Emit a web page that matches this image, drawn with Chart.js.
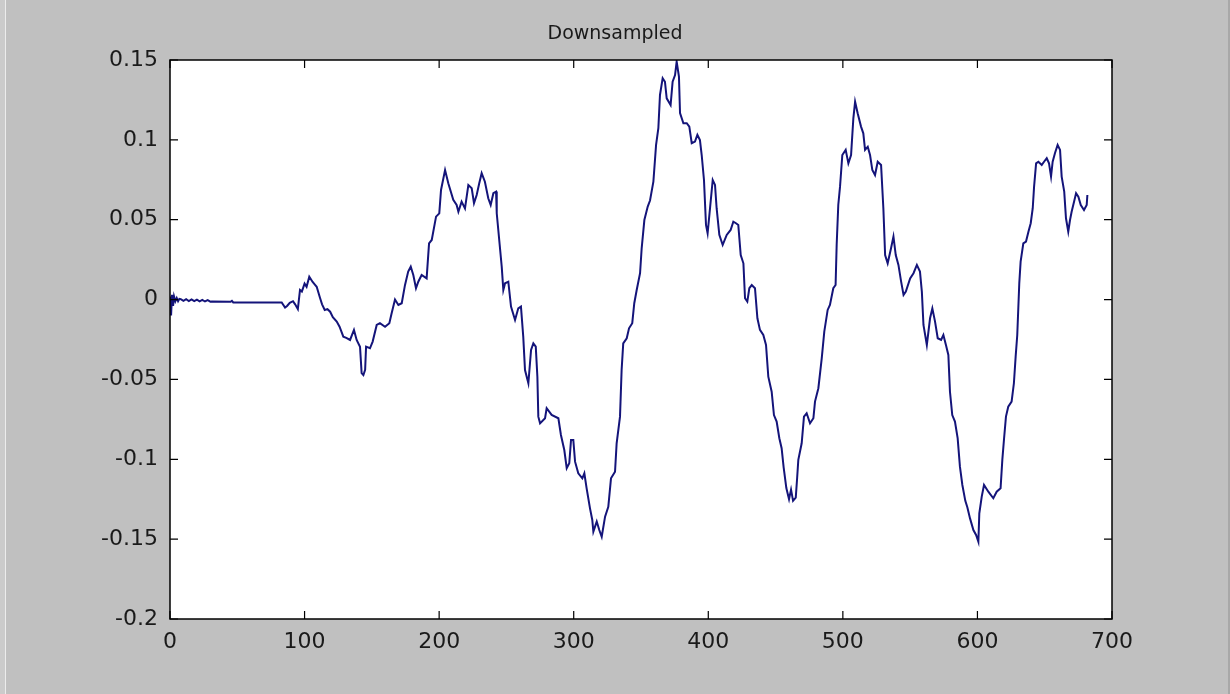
<!DOCTYPE html>
<html>
<head>
<meta charset="utf-8">
<title>Downsampled</title>
<script src="https://cdn.jsdelivr.net/npm/chart.js@4/dist/chart.umd.min.js"></script>
<style>
  html, body { margin: 0; padding: 0; background: #c0c0c0; }
  #wrap { width: 1230px; height: 694px; }
</style>
</head>
<body>
<div id="wrap"><canvas id="chart" width="1230" height="694"></canvas></div>
<script>
// sample index and value
const sampleIndex = [
  0, 0.8, 1.5, 2.3, 3, 4, 5, 6, 7, 8, 10, 12, 14, 16, 18, 20, 22, 24, 26, 28, 30,
  31, 45, 46, 47, 83, 85.5, 87, 89, 91.4, 93, 95, 96.6, 98, 100, 101.5, 103.5, 106, 107.5, 109,
  111.5, 113, 115, 117, 119, 121, 123.9, 126, 128.8, 131, 133.8, 136.7, 138.7, 141.2, 142.4, 143.7, 145, 145.7,
  148.6, 150.6, 153.6, 156, 159.8, 163, 164.7, 167.2, 169.7, 172.2, 174.6, 177, 178.9, 180.8, 182.8, 184.5,
  187, 190.7, 192.5, 194.5, 197.7, 200.1, 201.4, 204.4, 206.8, 210.5, 213, 214.3, 216.7, 219.2, 221.7, 224.2,
  225.9, 227.9, 229.8, 231.6, 234, 236.5, 238.3, 240.3, 242.3, 242.8, 246.5, 247.7, 249, 251.4, 253.4, 256.4,
  258.8, 260.8, 262.5, 263.8, 266.3, 268.3, 270, 271.8, 273, 273.7, 275, 278.7, 279.9, 283.6, 288.6, 290.5,
  293, 294.8, 296.7, 298, 299.7, 301, 303.4, 306.4, 307.9, 309.6, 312.1, 313.8, 314.6, 317.1, 319, 320.8,
  323.3, 325.7, 327.7, 330.7, 331.9, 334.4, 335.6, 336.8, 339.4, 341.1, 343.5, 345, 346.8, 349.3, 350.5, 352.5,
  355, 356.7, 359.2, 361.2, 362.9, 364.1, 366.1, 367.8, 369.1, 372, 373.5, 375.3, 376.5, 378.2, 379, 381.5,
  384, 385.9, 387.7, 390.1, 391.9, 393.8, 395.1, 396.8, 398.3, 399.5, 401.3, 403.3, 405, 406.2, 408.2, 410.7,
  413.7, 416.6, 418.6, 420.6, 422.3, 424.1, 426.1, 427.3, 429, 430.5, 432.3, 434.7, 436.5, 438.4, 440.9, 442.9,
  444.6, 447.1, 448.8, 450.8, 452.8, 454.5, 456, 458, 460, 461.5, 463, 465, 466, 466.9, 469.4, 471.1,
  473.1, 475.6, 478.1, 479.3, 481.8, 484.3, 486.2, 488.7, 490.4, 492.9, 494.6, 495.4, 496.6, 497.9, 499.6, 502.1,
  504.1, 506.1, 507.8, 509.1, 511, 513.5, 515.2, 516.5, 518.5, 520.2, 521.9, 523.9, 525.9, 528.4, 530.1, 531.4,
  533.3, 535.8, 537.6, 539.3, 541.3, 543.3, 545.1, 546.8, 550, 552.5, 555, 557.3, 558.7, 559.9, 562.4, 564.8,
  566.5, 568.5, 570.5, 573, 574.7, 576.6, 578.4, 579.6, 581.3, 583.3, 585.3, 587, 588.8, 591, 592.5, 594.5,
  597, 599, 600.7, 601.4, 603.2, 604.9, 608.1, 611.8, 614.3, 617.2, 618.5, 619.7, 621.2, 622.9, 625.4, 627.1,
  628.4, 629.6, 631.1, 632.1, 634.1, 636.1, 637.9, 639.6, 641.1, 642.1, 643.6, 645.3, 647.8, 649.5, 651.5, 653.2,
  654.7, 655.9, 657.6, 659.6, 661.4, 662.6, 664.5, 665.8, 667.5, 668.8, 670, 671.8, 673.3, 675, 676.8, 679.2,
  681.2, 681.7
];
const amplitude = [
  0.002, -0.010, 0.003, -0.004, 0.002, -0.001, 0.001, -0.001, 0.0005, 0.0003, -0.0008, 0.0002, -0.0009, 0.0001, -0.001, 0, -0.0011, -0.0002, -0.0012, -0.0004, -0.0013,
  -0.0012, -0.0014, -0.0008, -0.0018, -0.0018, -0.005, -0.004, -0.002, -0.001, -0.003, -0.006, 0.006, 0.005, 0.010, 0.008, 0.0143, 0.011, 0.0095, 0.008,
  0.001, -0.003, -0.0065, -0.006, -0.0076, -0.011, -0.0138, -0.017, -0.0232, -0.024, -0.0253, -0.019, -0.0253, -0.0295, -0.046, -0.0472, -0.044, -0.0295,
  -0.0305, -0.0263, -0.0159, -0.0148, -0.017, -0.0148, -0.0086, 0, -0.0034, -0.0023, 0.009, 0.0175, 0.0206, 0.0154, 0.0071, 0.0112,
  0.0154, 0.0133, 0.0352, 0.0373, 0.0519, 0.054, 0.0686, 0.0811, 0.0728, 0.0624, 0.0592, 0.055, 0.0613, 0.0571, 0.0717, 0.0697,
  0.0603, 0.0655, 0.0728, 0.0791, 0.0738, 0.0634, 0.0592, 0.0666, 0.0676, 0.054, 0.0206, 0.006, 0.0102, 0.0112, -0.0044, -0.0128,
  -0.0055, -0.0044, -0.0232, -0.0441, -0.0524, -0.0316, -0.0274, -0.0295, -0.0483, -0.0733, -0.0775, -0.0743, -0.068, -0.0722, -0.0743, -0.0848,
  -0.0942, -0.1056, -0.1025, -0.0879, -0.0879, -0.1015, -0.1088, -0.1119, -0.1088, -0.1182, -0.1307, -0.138, -0.1453, -0.139, -0.1443, -0.1485,
  -0.1359, -0.1297, -0.1119, -0.1078, -0.09, -0.0733, -0.0441, -0.0274, -0.0242, -0.018, -0.0148, -0.0023, 0.006, 0.0165, 0.0321, 0.0498,
  0.0582, 0.062, 0.0738, 0.0968, 0.1073, 0.1281, 0.1386, 0.1364, 0.126, 0.1218, 0.1364, 0.1406, 0.149, 0.1396, 0.1167, 0.1104,
  0.1104, 0.1083, 0.0979, 0.0989, 0.1031, 0.0999, 0.0905, 0.0749, 0.0467, 0.0415, 0.0572, 0.0749, 0.0718, 0.0572, 0.0405, 0.0342,
  0.0405, 0.0436, 0.0488, 0.0478, 0.0467, 0.0279, 0.0227, 0.0008, -0.0013, 0.0071, 0.0091, 0.0071, -0.0117, -0.019, -0.0222, -0.0284,
  -0.0483, -0.0577, -0.0723, -0.0764, -0.0868, -0.0931, -0.105, -0.118, -0.125, -0.119, -0.126, -0.124, -0.112, -0.1004, -0.09, -0.0733,
  -0.0712, -0.0775, -0.0743, -0.0639, -0.0555, -0.0368, -0.0201, -0.0065, -0.0034, 0.0071, 0.0091, 0.0342, 0.0592, 0.0707, 0.0905, 0.0937,
  0.0853, 0.0905, 0.1135, 0.1239, 0.1167, 0.1083, 0.1041, 0.0937, 0.0957, 0.0905, 0.0811, 0.078, 0.0863, 0.0843, 0.0572, 0.0279,
  0.0227, 0.0321, 0.0394, 0.0279, 0.0217, 0.0112, 0.0029, 0.005, 0.0133, 0.0165, 0.0217, 0.0175, 0.005, -0.0159, -0.0284, -0.0117,
  -0.0055, -0.0138, -0.0242, -0.0253, -0.0222, -0.0284, -0.0347, -0.0577, -0.0723, -0.0764, -0.0868, -0.1046, -0.1161, -0.126, -0.13, -0.137,
  -0.1443, -0.1474, -0.1516, -0.1338, -0.1234, -0.1161, -0.1203, -0.1244, -0.1203, -0.1182, -0.1004, -0.0879, -0.0733, -0.0671, -0.0639, -0.0524,
  -0.0357, -0.0222, 0.0102, 0.0237, 0.0352, 0.0363, 0.0425, 0.0478, 0.0572, 0.0707, 0.0853, 0.0863, 0.0843, 0.0863, 0.0885, 0.0853,
  0.077, 0.0863, 0.0916, 0.0968, 0.0937, 0.077, 0.0676, 0.0509, 0.0425, 0.0498, 0.055, 0.0613, 0.0666, 0.0644, 0.0592, 0.0561,
  0.0592, 0.0655
];
const xTicks = [0, 100, 200, 300, 400, 500, 600, 700];
const xTickLabels = ["0", "100", "200", "300", "400", "500", "600", "700"];
const yTicks = [-0.2, -0.15, -0.1, -0.05, 0, 0.05, 0.1, 0.15];
const yTickLabels = ["-0.2", "-0.15", "-0.1", "-0.05", "0", "0.05", "0.1", "0.15"];

const points = sampleIndex.map((x, i) => ({ x: x, y: amplitude[i] }));

// matlab style figure: grey figure, white axes, box with inward ticks
const matlabFrame = {
  id: "matlabFrame",
  beforeDraw(chart) {
    const ctx = chart.ctx;
    const a = chart.chartArea;
    ctx.save();
    ctx.fillStyle = "#c0c0c0";
    ctx.fillRect(0, 0, chart.width, chart.height);
    ctx.fillStyle = "#cbcbcb";
    ctx.fillRect(0, 0, 6, chart.height);
    ctx.fillStyle = "#ececec";
    ctx.fillRect(5, 0, 1, chart.height);
    ctx.fillStyle = "#a8a8a8";
    ctx.fillRect(chart.width - 2, 0, 2, chart.height);
    ctx.fillStyle = "#ffffff";
    ctx.fillRect(a.left, a.top, a.right - a.left, a.bottom - a.top);
    ctx.restore();
  },
  afterDatasetsDraw(chart) {
    const ctx = chart.ctx;
    const a = chart.chartArea;
    const xs = chart.scales.x, ys = chart.scales.y;
    const len = 8;
    ctx.save();
    ctx.strokeStyle = "#000";
    ctx.lineWidth = 1.5;
    ctx.strokeRect(a.left, a.top, a.right - a.left, a.bottom - a.top);
    ctx.lineWidth = 1.2;
    ctx.beginPath();
    xs.ticks.forEach((t, i) => {
      const px = xs.getPixelForTick(i);
      ctx.moveTo(px, a.bottom); ctx.lineTo(px, a.bottom - len);
      ctx.moveTo(px, a.top); ctx.lineTo(px, a.top + len);
    });
    ys.ticks.forEach((t, i) => {
      const py = ys.getPixelForTick(i);
      ctx.moveTo(a.left, py); ctx.lineTo(a.left + len, py);
      ctx.moveTo(a.right, py); ctx.lineTo(a.right - len, py);
    });
    ctx.stroke();
    ctx.restore();
  }
};

new Chart(document.getElementById("chart"), {
  type: "line",
  data: {
    datasets: [{
      data: points,
      borderColor: "#14147a",
      borderWidth: 2,
      pointRadius: 0,
      tension: 0,
      fill: false
    }]
  },
  options: {
    responsive: false,
    animation: false,
    events: [],
    layout: { padding: 0 },
    plugins: {
      legend: { display: false },
      tooltip: { enabled: false },
      title: {
        display: true,
        text: "Downsampled",
        color: "#1a1a1a",
        font: { family: "DejaVu Sans", size: 19, weight: "normal", lineHeight: 1.2 },
        padding: { top: 23, bottom: 14.2 }
      }
    },
    scales: {
      x: {
        type: "linear",
        min: 0,
        max: 700,
        grid: { display: false },
        border: { display: false },
        afterBuildTicks: s => { s.ticks = xTicks.map(v => ({ value: v })); },
        afterFit: s => { s.height = 75; },
        ticks: {
          color: "#1a1a1a",
          padding: 2,
          maxRotation: 0,
          font: { family: "DejaVu Sans", size: 22 },
          callback: (v, i) => xTickLabels[i]
        }
      },
      y: {
        type: "linear",
        min: -0.2,
        max: 0.15,
        grid: { display: false },
        border: { display: false },
        afterBuildTicks: s => { s.ticks = yTicks.map(v => ({ value: v })); },
        afterFit: s => { s.width = 170; },
        ticks: {
          color: "#1a1a1a",
          padding: 4,
          font: { family: "DejaVu Sans", size: 22 },
          callback: (v, i) => yTickLabels[i]
        }
      },
      // empty right axis that only reserves the grey margin
      yRight: {
        type: "linear",
        position: "right",
        min: -0.2,
        max: 0.15,
        grid: { display: false },
        border: { display: false },
        ticks: { display: false },
        afterFit: s => { s.width = 118; }
      }
    }
  },
  plugins: [matlabFrame]
});
</script>
</body>
</html>
